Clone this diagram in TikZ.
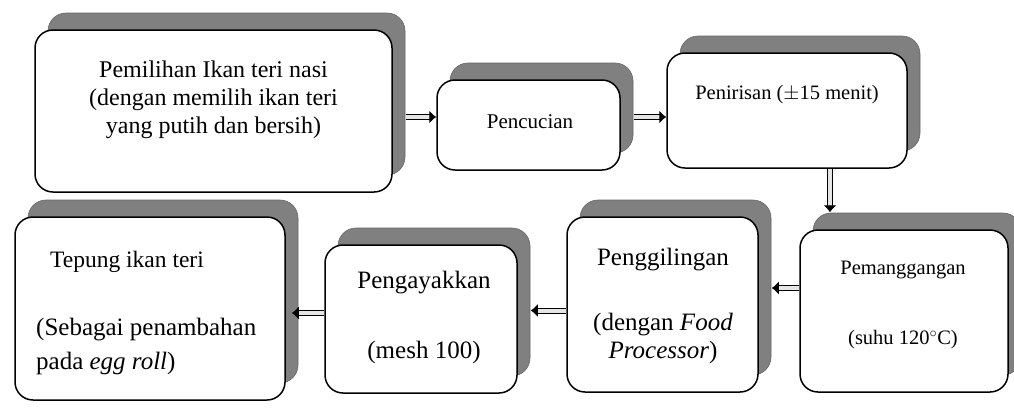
\documentclass[tikz,border=0pt]{standalone}
\usepackage{fontspec}
\setmainfont{Liberation Serif}
\usetikzlibrary{shadows,arrows.meta}
\begin{document}
\begin{tikzpicture}[x=1pt,y=-1pt,
 box/.style={draw=black, line width=1.5pt, fill=white, rounded corners=18pt, inner sep=0pt,
   general shadow={fill=black!50, draw=black!60, line width=0.6pt, shadow xshift=13pt, shadow yshift=17pt}},
 lbl/.style={align=center, inner sep=0pt},
 lbll/.style={align=left, inner sep=0pt, anchor=west},
 fa/.style={font=\fontsize{20.5}{28}\selectfont},
 fb/.style={font=\fontsize{24}{28}\selectfont},
 fc/.style={font=\fontsize{25}{28}\selectfont},
 arr/.style={draw=black, line width=1pt, double=gray!20, double distance=4pt, -{Latex[length=7pt,width=13pt]}}]
\useasboundingbox (0,0) rectangle (1014,408);
% boxes
\node[box, minimum width=357pt, minimum height=162pt] (b1) at (213.5,111) {};
\node[box, minimum width=183pt, minimum height=90pt] (b2) at (528.5,125) {};
\node[box, minimum width=240pt, minimum height=115pt] (b3) at (787,110.5) {};
\node[box, minimum width=208pt, minimum height=162pt] (b4) at (904,311) {};
\node[box, minimum width=191pt, minimum height=175pt] (b5) at (662.5,304.5) {};
\node[box, minimum width=192pt, minimum height=148pt] (b6) at (421,319) {};
\node[box, minimum width=270pt, minimum height=183pt] (b7) at (150,308.5) {};
% labels
\node[lbl, fb] (t1) at (213.5,100) {Pemilihan Ikan teri nasi\\(dengan memilih ikan teri\\yang putih dan bersih)};
\node[lbl, font=\fontsize{21}{28}\selectfont] (t2) at (530,122) {Pencucian};
\node[lbl, fa] (t3) at (787,95) {Penirisan ($\pm$15 menit)};
\node[lbl, fa] (t4a) at (903,270) {Pemanggangan};
\node[lbl, fa] (t4b) at (903,340) {(suhu 120$^{\circ}$C)};
\node[lbl, fc] (t5a) at (663,260) {Penggilingan};
\node[lbl, fc] (t5b) at (663,338) {(dengan \textit{Food}\\\textit{Processor})};
\node[lbl, fc] (t6a) at (424,283) {Pengayakkan};
\node[lbl, fc] (t6b) at (424,352) {(mesh 100)};
\node[lbl, font=\fontsize{23.5}{28}\selectfont] (t7a) at (127,262) {Tepung ikan teri};
\node[lbll, fc] (t7b) at (36,330) {(Sebagai penambahan};
\node[lbll, fc] (t7c) at (36,363) {pada \textit{egg roll})};
% arrows
\draw[arr] ([xshift=13pt,yshift=-6pt]b1.east) -- ([yshift=-6pt]b1.east -| b2.west);
\draw[arr] ([xshift=13pt,yshift=8pt]b2.east) -- ([yshift=8pt]b2.east -| b3.west);
\draw[arr] ([xshift=43pt]b3.south) -- ([xshift=43pt,yshift=17pt]b3.south |- b4.north);
\draw[arr] ([yshift=23pt]b4.west) -- ([xshift=13pt,yshift=23pt]b4.west -| b5.east);
\draw[arr] ([yshift=-6pt]b5.west) -- ([xshift=13pt,yshift=-6pt]b5.west -| b6.east);
\draw[arr] ([yshift=6pt]b6.west) -- ([xshift=6pt,yshift=6pt]b6.west -| b7.east);
\end{tikzpicture}
\end{document}
